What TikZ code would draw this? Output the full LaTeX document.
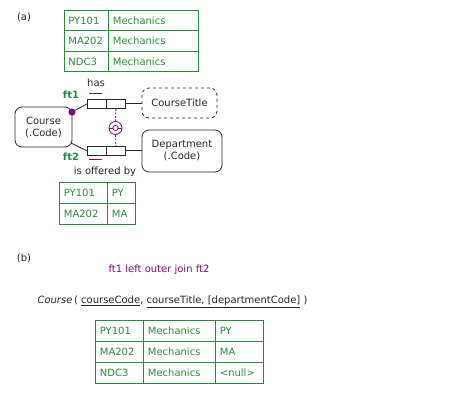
\documentclass[tikz,border=0pt]{standalone}
\usepackage{fontspec}
\setmainfont{DejaVu Sans}
\definecolor{tgreen}{RGB}{40,140,60}
\definecolor{lgreen}{RGB}{30,140,70}
\definecolor{tpurple}{RGB}{128,10,128}
\definecolor{tline}{RGB}{40,40,40}
\begin{document}
\begin{tikzpicture}[x=1pt,y=-1pt,
  every node/.style={font=\fontsize{10}{12}\selectfont, text=black!85},
  cell/.style={draw=tgreen, line width=0.8pt, anchor=north west, inner xsep=4.5pt, inner ysep=0pt, align=left, text=tgreen, minimum height=21pt},
  rbox/.style={draw=tline, line width=0.8pt, rounded corners=7pt, align=center, inner sep=0pt},
  role/.style={draw=tline, line width=0.8pt, anchor=north west, minimum width=19pt, minimum height=9pt, inner sep=0pt},
  conn/.style={draw=tline, line width=0.8pt},
  ftlab/.style={text=lgreen, font=\fontsize{10}{12}\selectfont\bfseries},
  ubar/.style={draw=tpurple, line width=1pt},
  cons/.style={draw=tpurple, line width=0.8pt}
]
\useasboundingbox (0,0) rectangle (450,401);
\node (la) at (24,17) {(a)};
\node (lb) at (24,258) {(b)};
% table 1
\node[cell, text width=35.5pt, minimum height=20.5pt] (t1a1) at (63.5,10) {PY101};
\node[cell, text width=81pt, minimum height=20.5pt] (t1b1) at (108,10) {Mechanics};
\node[cell, text width=35.5pt, minimum height=20.5pt] (t1a2) at (63.5,30.5) {MA202};
\node[cell, text width=81pt, minimum height=20.5pt] (t1b2) at (108,30.5) {Mechanics};
\node[cell, text width=35.5pt, minimum height=20.5pt] (t1a3) at (63.5,51) {NDC3};
\node[cell, text width=81pt, minimum height=20.5pt] (t1b3) at (108,51) {Mechanics};
% schema
\node[rbox, minimum width=57pt, minimum height=40pt] (course) at (43.5,127) {Course\\(.Code)};
\node[rbox, dashed, minimum width=75pt, minimum height=30pt] (ctitle) at (179.5,103) {CourseTitle};
\node[rbox, minimum width=80pt, minimum height=42pt] (dept) at (182,151) {Department\\(.Code)};
\node[role] (r1a) at (87,99) {};
\node[role] (r1b) at (106,99) {};
\node[role] (r2a) at (87,146) {};
\node[role] (r2b) at (106,146) {};
\coordinate (d1) at (72,112);
\coordinate (d2) at (71,143);
\path[conn] (d1) -- (r1a.west);
\path[conn] (d2) -- (r2a.west);
\path[conn] (r1b.east) -- (ctitle.west |- r1b.east);
\path[conn] (r2b.east) -- (dept.west |- r2b.east);
\fill[tpurple] (d1) circle (3.6pt);
\node (has) at (96,83) {has};
\node[ftlab] (ft1) at (71,95) {ft1};
\node[ftlab] (ft2) at (71,157) {ft2};
\node (off) at (105,172) {is offered by};
\draw[ubar] (89,94) -- (102,94);
\draw[ubar] (89,159.5) -- (102,159.5);
\node[cons, circle, minimum size=13pt, inner sep=0pt] (xc) at (115.5,128) {};
\draw[cons, dash pattern=on 2pt off 1.5pt] (r1b.south) -- (xc.north);
\draw[cons, dash pattern=on 2pt off 1.5pt] (xc.south) -- (r2b.north);
\draw[cons] (xc.west) -- (xc.east);
\draw[cons, fill=white] (xc.center) circle (2.6pt);
% table 2
\node[cell, text width=39pt] (t2a1) at (59,182) {PY101};
\node[cell, text width=19pt] (t2b1) at (107,182) {PY};
\node[cell, text width=39pt] (t2a2) at (59,203) {MA202};
\node[cell, text width=19pt] (t2b2) at (107,203) {MA};
% (b)
\node[text=tpurple] (join) at (159,270) {ft1 left outer join ft2};
\node[anchor=west] (rel) at (34,302) {\textit{Course}\,( \underline{courseCode}, \underline{courseTitle, [departmentCode]} )};
% table 3
\node[cell, text width=39pt] (t3a1) at (95,320) {PY101};
\node[cell, text width=63pt] (t3b1) at (143,320) {Mechanics};
\node[cell, text width=39pt] (t3c1) at (215,320) {PY};
\node[cell, text width=39pt] (t3a2) at (95,341) {MA202};
\node[cell, text width=63pt] (t3b2) at (143,341) {Mechanics};
\node[cell, text width=39pt] (t3c2) at (215,341) {MA};
\node[cell, text width=39pt] (t3a3) at (95,362) {NDC3};
\node[cell, text width=63pt] (t3b3) at (143,362) {Mechanics};
\node[cell, text width=39pt] (t3c3) at (215,362) {<null>};
\end{tikzpicture}
\end{document}
